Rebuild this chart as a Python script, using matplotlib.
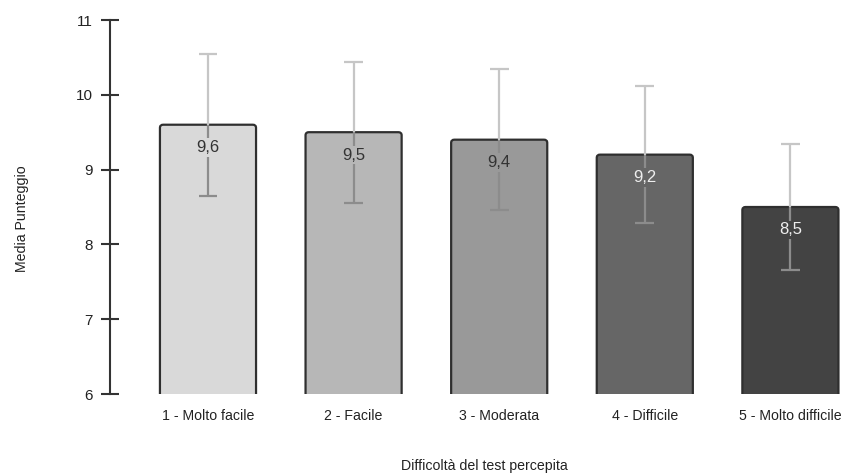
import matplotlib
matplotlib.use("Agg")
import matplotlib.pyplot as plt
from matplotlib.patches import FancyBboxPatch

categories = ["1 - Molto facile", "2 - Facile", "3 - Moderata", "4 - Difficile", "5 - Molto difficile"]
means = [9.6, 9.5, 9.4, 9.2, 8.5]
errors = [0.95, 0.94, 0.94, 0.92, 0.84]
value_labels = ["9,6", "9,5", "9,4", "9,2", "8,5"]
bar_colors = ["#d9d9d9", "#b7b7b7", "#999999", "#666666", "#434343"]
label_colors = ["#333333", "#333333", "#333333", "#eeeeee", "#eeeeee"]
y_ticks = [6, 7, 8, 9, 10, 11]

font = ["Liberation Sans", "DejaVu Sans"]

fig = plt.figure(figsize=(8.59, 4.74), dpi=100)
ax = fig.add_axes([110 / 859, 1 - 394 / 474, 1 - 110 / 859, (394 - 20) / 474])

x = list(range(len(categories)))
width = 0.66
base = 5.9
for xi, m, c in zip(x, means, bar_colors):
    patch = FancyBboxPatch((xi - width / 2, base), width, m - base,
                           boxstyle="round,pad=0,rounding_size=0.022",
                           mutation_aspect=1.9,
                           facecolor=c, edgecolor="#2f2f2f", linewidth=1.6,
                           zorder=2)
    ax.add_patch(patch)

cap = 0.065
for xi, m, e in zip(x, means, errors):
    ax.vlines(xi, m, m + e, color="#c6c6c6", linewidth=1.6, zorder=3)
    ax.hlines(m + e, xi - cap, xi + cap, color="#c6c6c6", linewidth=1.6, zorder=3)
    ax.vlines(xi, m - e, m, color="#8c8c8c", linewidth=1.6, zorder=3)
    ax.hlines(m - e, xi - cap, xi + cap, color="#8c8c8c", linewidth=1.6, zorder=3)

for xi, m, lab, bc, tc in zip(x, means, value_labels, bar_colors, label_colors):
    ax.annotate(lab, (xi, m), xytext=(0, -16.5), textcoords="offset points",
                ha="center", va="center", fontsize=12, color=tc,
                family=font,
                bbox=dict(boxstyle="square,pad=0.1", facecolor=bc, edgecolor="none"),
                zorder=4)

ax.set_xlim(-0.673, (859 - 208) / 145.6)
ax.set_ylim(6, 11)
ax.set_yticks(y_ticks)
ax.set_yticklabels([str(t) for t in y_ticks], family=font, fontsize=11, color="#222222")
ax.set_xticks(x)
ax.set_xticklabels(categories, family=font, fontsize=10.2, color="#222222")
ax.tick_params(axis="x", length=0, pad=10.5)
ax.tick_params(axis="y", direction="inout", length=13, width=1.5, color="#333333", pad=6)

for side in ["top", "right", "bottom"]:
    ax.spines[side].set_visible(False)
ax.spines["left"].set_color("#333333")
ax.spines["left"].set_linewidth(1.5)

ax.set_ylabel("Media Punteggio", family=font, fontsize=10.2, color="#222222")
ax.yaxis.set_label_coords(-0.108, 0.47)
ax.set_xlabel("Difficoltà del test percepita", family=font, fontsize=10.2, color="#222222")
ax.xaxis.set_label_coords(0.5, -0.175)

fig.savefig("out.png", dpi=100)
